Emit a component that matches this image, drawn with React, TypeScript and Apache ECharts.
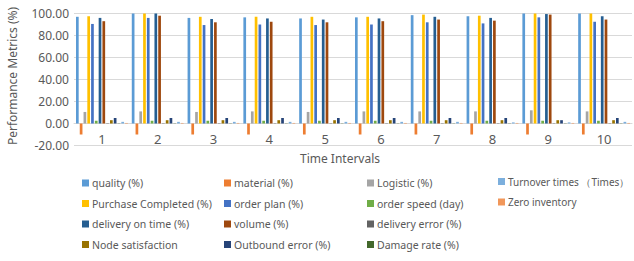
import React, { useEffect, useRef } from "react";
import * as echarts from "echarts";

const categories = ["1", "2", "3", "4", "5", "6", "7", "8", "9", "10"];
const quality = [97, 100, 96, 96.5, 95.5, 96.5, 98.5, 97.5, 100, 100];
const material = [-10, -10, -10, -10, -10, -10, -10, -10, -10, -10];
const logistic = [10.5, 11, 10.5, 11, 10.5, 11, 11, 11, 12, 11];
const purchaseCompleted = [97.5, 100, 97, 97, 97, 97, 99, 98, 100, 100];
const orderPlan = [90.5, 96, 89.5, 90, 89.5, 90, 92, 91, 96.5, 92.5];
const orderSpeed = [2.5, 2.5, 2.5, 2.5, 2.5, 2.5, 2.5, 2.5, 2.5, 2.5];
const deliveryOnTime = [96, 100, 95, 95.5, 94.5, 95.5, 97, 96, 99.5, 97.5];
const volume = [93, 98, 92, 92.5, 92, 93, 94.5, 93.5, 99, 94.5];
const deliveryError = [0.3, 0.3, 0.3, 0.3, 0.3, 0.3, 0.3, 0.3, 0.3, 0.3];
const nodeSatisfaction = [3, 3, 3, 3, 3, 3, 3, 3, 3, 3];
const outboundError = [5, 5, 5, 5, 5, 5, 5, 5, 3, 5];
const damageRate = [0.2, 0.2, 0.2, 0.2, 0.2, 0.2, 0.2, 0.2, 0.2, 0.2];
const turnoverTimes = [1.5, 1.5, 1.5, 1.5, 1.5, 1.5, 1.5, 1, 1, 1.5];
const zeroInventory = [0.5, 0.5, 0.5, 0.5, 0.5, 0.5, 0.5, 0.5, 0.5, 0.5];

const seriesNames = [
  "quality (%)",
  "material (%)",
  "Logistic (%)",
  "Purchase Completed (%)",
  "order plan (%)",
  "order speed (day)",
  "delivery on time (%)",
  "volume (%)",
  "delivery error (%)",
  "Node satisfaction",
  "Outbound error (%)",
  "Damage rate (%)",
  "Turnover times （Times）",
  "Zero inventory",
];
const seriesData = [
  quality, material, logistic, purchaseCompleted, orderPlan, orderSpeed,
  deliveryOnTime, volume, deliveryError, nodeSatisfaction, outboundError,
  damageRate, turnoverTimes, zeroInventory,
];
const colors = [
  "#5B9BD5", "#ED7D31", "#A5A5A5", "#FFC000", "#4472C4", "#70AD47",
  "#255E91", "#9E480E", "#636363", "#997300", "#264478", "#43682B",
  "#7CAFDD", "#F1975A",
];
const yTicks = { min: -20, max: 100, interval: 20 };
const legendColumns = [
  [0, 3, 6, 9],
  [1, 4, 7, 10],
  [2, 5, 8, 11],
  [12, 13],
];

const FONT = "'Noto Sans', sans-serif";
const TXT = "#595959";

export default function App() {
  const ref = useRef<HTMLDivElement>(null);
  useEffect(() => {
    if (!ref.current) return;
    const chart = echarts.init(ref.current, null, { renderer: "svg" });
    const legendLefts = [82, 224, 367, 498];
    chart.setOption({
      animation: false,
      color: colors,
      textStyle: { fontFamily: FONT },
      grid: { left: 74, right: 2, top: 13.5, bottom: 115.5 },
      xAxis: {
        type: "category",
        data: categories,
        offset: -22,
        axisLine: { show: true, onZero: false, lineStyle: { color: "#D9D9D9" } },
        axisTick: { show: false },
        axisLabel: { color: TXT, fontSize: 13, margin: 9, fontFamily: FONT },
      },
      yAxis: {
        type: "value",
        min: yTicks.min,
        max: yTicks.max,
        interval: yTicks.interval,
        axisLine: { show: false },
        axisTick: { show: false },
        splitLine: { lineStyle: { color: "#D9D9D9" } },
        axisLabel: {
          color: TXT,
          fontSize: 12,
          margin: 5,
          fontFamily: FONT,
          formatter: (v: number) => v.toFixed(2),
        },
      },
      legend: legendColumns.map((idx, c) => ({
        orient: "vertical",
        left: legendLefts[c],
        top: c === 3 ? 174.5 : 176,
        padding: 0,
        itemGap: 6.5,
        itemWidth: 7,
        itemHeight: 7,
        icon: "rect",
        selectedMode: false,
        textStyle: {
          color: TXT,
          fontSize: c === 3 ? 10 : 10.5,
          lineHeight: 14,
          fontFamily: FONT,
          padding: [0, 0, 0, -2],
        },
        data: idx.map((i) => seriesNames[i]),
      })),
      graphic: [
        {
          type: "text",
          x: 340,
          y: 158,
          style: {
            text: "Time Intervals",
            fill: TXT,
            font: `12px ${FONT}`,
            textAlign: "center",
            textVerticalAlign: "middle",
          },
        },
        {
          type: "text",
          x: 12,
          y: 76,
          rotation: Math.PI / 2,
          style: {
            text: "Performance Metrics (%)",
            fill: TXT,
            font: `12px ${FONT}`,
            textAlign: "center",
            textVerticalAlign: "middle",
          },
        },
      ],
      series: seriesNames.map((name, i) => ({
        name,
        type: "bar",
        data: seriesData[i],
        barWidth: 2.7,
        barGap: "40%",
        itemStyle: { color: colors[i] },
      })),
    });
    return () => chart.dispose();
  }, []);
  return (
    <div
      ref={ref}
      style={{ position: "fixed", left: 0, top: 0, width: 634, height: 261, background: "#fff" }}
    />
  );
}
